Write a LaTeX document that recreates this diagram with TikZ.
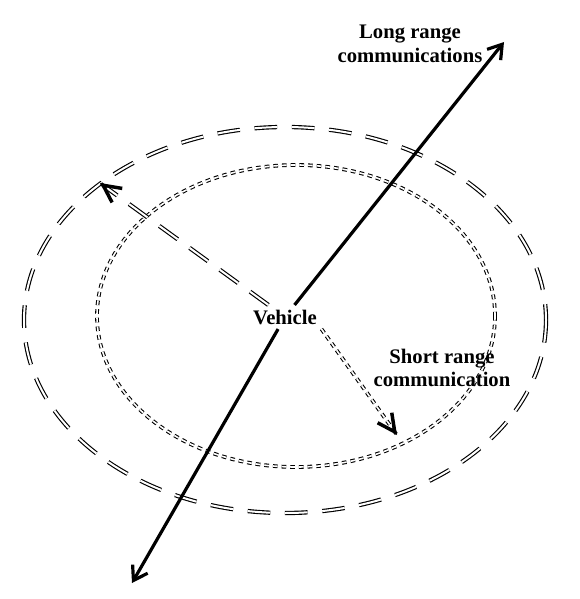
\documentclass[tikz,border=0pt]{standalone}
\usepackage{fontspec}
\setmainfont{Liberation Serif}
\usetikzlibrary{positioning, arrows.meta, calc}

\begin{document}
\begin{tikzpicture}[
	x=0.75pt, y=-0.75pt,
	>={Straight Barb[length=10pt, width=13pt]},
	txt/.style={font=\fontsize{15.5}{17.5}\selectfont\bfseries, align=center},
	longline/.style={line width=2.4pt, ->},
	ring/.style={double, line width=0.85pt, double distance=1.5pt, dash pattern=on 17pt off 11pt},
	dotring/.style={double, line width=0.8pt, double distance=1.2pt, dash pattern=on 3.5pt off 3pt},
	barbtip/.style={line width=2.6pt, -{Straight Barb[length=13pt, width=13pt]}}
	]
	\useasboundingbox (0,0) rectangle (579,599);
	
	% 1. RANGES (two rings)
	\draw[ring] (285,320) ellipse [x radius=261, y radius=193];
	\draw[dotring] (296,316) ellipse [x radius=199, y radius=151];
	
	% 2. VEHICLE (centre)
	\node[txt] (vehicle) at (285,317) {Vehicle};
	\coordinate (lrhead) at (504,42);
	\coordinate (lrtail) at (132,583);
	\coordinate (uphead) at (100,183);
	\coordinate (srhead) at (397,435);
	
	% 3. LONG RANGE LINK
	\draw[longline] (vehicle) -- (lrhead);
	\draw[longline] (vehicle) -- (lrtail);
	\node[txt] (lrlabel) at (410,44) {Long range\\communications};
	
	% 4. RANGE ARROWS
	\draw[ring, shorten >=6pt] (vehicle) -- (uphead);
	\draw[barbtip] ($(uphead)!1pt!(vehicle)$) -- (uphead);
	\draw[dotring, shorten >=6pt] (vehicle.south east) -- (srhead);
	\draw[barbtip] ($(srhead)!1pt!(vehicle.south east)$) -- (srhead);
	\node[txt] (srlabel) at (442,368) {Short range\\communication};
\end{tikzpicture}
\end{document}
